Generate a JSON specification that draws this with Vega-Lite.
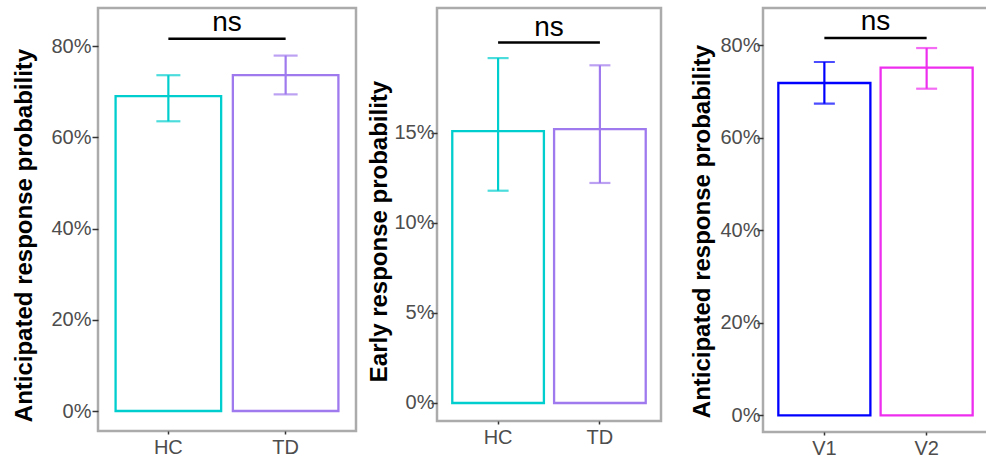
{
  "$schema": "https://vega.github.io/schema/vega-lite/v6.json",
  "padding": {"left": 10, "top": 6, "right": 0, "bottom": 0},
  "background": "white",
  "config": {
    "font": "Liberation Sans",
    "view": {"stroke": "#ABABAB", "strokeWidth": 2.5},
    "axis": {
      "grid": false,
      "domain": false,
      "tickColor": "#333333",
      "tickWidth": 1.5,
      "labelFont": "Liberation Sans",
      "labelColor": "#4D4D4D",
      "labelFontSize": 20,
      "titleFont": "Liberation Sans",
      "titleFontSize": 24,
      "titleFontWeight": "bold",
      "titleColor": "black"
    },
    "axisX": {"tickSize": 3, "labelPadding": 3, "labelAngle": 0},
    "axisY": {"tickSize": 6, "labelPadding": 1}
  },
  "bounds": "full",
  "spacing": 25,
  "hconcat": [
    {
      "bounds": "full",
      "spacing": 7,
      "hconcat": [
        {
          "width": 258,
          "height": 423,
          "data": {"values": [
            {"group": "HC", "mean": 0.690, "lo": 0.635, "hi": 0.736},
            {"group": "TD", "mean": 0.736, "lo": 0.694, "hi": 0.779}
          ]},
          "encoding": {
            "x": {"field": "group", "type": "nominal", "title": null,
                  "scale": {"paddingInner": 0.1, "paddingOuter": 0.15}},
            "color": {"field": "group", "type": "nominal", "legend": null,
                      "scale": {"domain": ["HC", "TD", "V1", "V2"], "range": ["#00CDCD", "#9F79EE", "#0000FF", "#EE2EEE"]}}
          },
          "layer": [
            {"mark": {"type": "bar", "fill": "white", "strokeWidth": 2.3, "filled": false},
             "encoding": {
               "y": {"field": "mean", "type": "quantitative", "title": "Anticipated response probability",
                     "scale": {"domain": [-0.0438, 0.8833], "nice": false, "zero": false},
                     "axis": {"values": [0, 0.2, 0.4, 0.6, 0.8], "format": ".0%", "titleX": -62, "titleY": 227}},
               "stroke": {"field": "group", "type": "nominal", "legend": null,
                          "scale": {"domain": ["HC", "TD", "V1", "V2"], "range": ["#00CDCD", "#9F79EE", "#0000FF", "#EE2EEE"]}}
             }},
            {"mark": {"type": "rule", "strokeWidth": 2.2},
             "encoding": {"y": {"field": "lo", "type": "quantitative"}, "y2": {"field": "hi"}}},
            {"mark": {"type": "tick", "size": 24, "thickness": 2.2},
             "encoding": {"y": {"field": "lo", "type": "quantitative"}}},
            {"mark": {"type": "tick", "size": 24, "thickness": 2.2},
             "encoding": {"y": {"field": "hi", "type": "quantitative"}}},
            {"data": {"values": [{"from": "HC", "to": "TD", "y": 0.816, "label": "ns", "ly": 0.833}]},
             "layer": [
               {"mark": {"type": "rule", "color": "black", "strokeWidth": 2.5},
                "encoding": {"x": {"field": "from", "type": "nominal"}, "x2": {"field": "to"},
                             "y": {"field": "y", "type": "quantitative"}, "color": {"value": "black"}}},
               {"mark": {"type": "text", "fontSize": 28, "color": "black", "align": "center", "baseline": "alphabetic", "dx": 58.6},
                "encoding": {"x": {"field": "from", "type": "nominal"}, "y": {"field": "ly", "type": "quantitative"},
                             "text": {"field": "label"}, "color": {"value": "black"}}}
             ]}
          ]
        },
        {
          "width": 224,
          "height": 413,
          "data": {"values": [
            {"group": "HC", "mean": 0.1509, "lo": 0.1178, "hi": 0.1914},
            {"group": "TD", "mean": 0.1520, "lo": 0.1221, "hi": 0.1874}
          ]},
          "encoding": {
            "x": {"field": "group", "type": "nominal", "title": null,
                  "scale": {"paddingInner": 0.1, "paddingOuter": 0.15}},
            "color": {"field": "group", "type": "nominal", "legend": null,
                      "scale": {"domain": ["HC", "TD", "V1", "V2"], "range": ["#00CDCD", "#9F79EE", "#0000FF", "#EE2EEE"]}}
          },
          "layer": [
            {"mark": {"type": "bar", "fill": "white", "strokeWidth": 2.3, "filled": false},
             "encoding": {
               "y": {"field": "mean", "type": "quantitative", "title": "Early response probability",
                     "scale": {"domain": [-0.0100, 0.2192], "nice": false, "zero": false},
                     "axis": {"values": [0, 0.05, 0.10, 0.15], "format": ".0%", "titleX": -46, "titleY": 223, "labelPadding": -3}},
               "stroke": {"field": "group", "type": "nominal", "legend": null,
                          "scale": {"domain": ["HC", "TD", "V1", "V2"], "range": ["#00CDCD", "#9F79EE", "#0000FF", "#EE2EEE"]}}
             }},
            {"mark": {"type": "rule", "strokeWidth": 2.2},
             "encoding": {"y": {"field": "lo", "type": "quantitative"}, "y2": {"field": "hi"}}},
            {"mark": {"type": "tick", "size": 21, "thickness": 2.2},
             "encoding": {"y": {"field": "lo", "type": "quantitative"}}},
            {"mark": {"type": "tick", "size": 21, "thickness": 2.2},
             "encoding": {"y": {"field": "hi", "type": "quantitative"}}},
            {"data": {"values": [{"from": "HC", "to": "TD", "y": 0.2, "label": "ns", "ly": 0.2035}]},
             "layer": [
               {"mark": {"type": "rule", "color": "black", "strokeWidth": 2.5},
                "encoding": {"x": {"field": "from", "type": "nominal"}, "x2": {"field": "to"},
                             "y": {"field": "y", "type": "quantitative"}, "color": {"value": "black"}}},
               {"mark": {"type": "text", "fontSize": 28, "color": "black", "align": "center", "baseline": "alphabetic", "dx": 50.9},
                "encoding": {"x": {"field": "from", "type": "nominal"}, "y": {"field": "ly", "type": "quantitative"},
                             "text": {"field": "label"}, "color": {"value": "black"}}}
             ]}
          ]
        }
      ]
    },
    {
      "width": 225,
      "height": 424,
      "data": {"values": [
        {"group": "V1", "mean": 0.7186, "lo": 0.674, "hi": 0.764},
        {"group": "V2", "mean": 0.7517, "lo": 0.7063, "hi": 0.7942}
      ]},
      "encoding": {
        "x": {"field": "group", "type": "nominal", "title": null,
              "scale": {"paddingInner": 0.1, "paddingOuter": 0.15}},
        "color": {"field": "group", "type": "nominal", "legend": null,
                  "scale": {"domain": ["HC", "TD", "V1", "V2"], "range": ["#00CDCD", "#9F79EE", "#0000FF", "#EE2EEE"]}}
      },
      "layer": [
        {"mark": {"type": "bar", "fill": "white", "strokeWidth": 2.3, "filled": false},
         "encoding": {
           "y": {"field": "mean", "type": "quantitative", "title": "Anticipated response probability",
                 "scale": {"domain": [-0.036, 0.8808], "nice": false, "zero": false},
                 "axis": {"values": [0, 0.2, 0.4, 0.6, 0.8], "format": ".0%", "titleX": -49, "titleY": 223, "labelPadding": -3}},
           "stroke": {"field": "group", "type": "nominal", "legend": null,
                      "scale": {"domain": ["HC", "TD", "V1", "V2"], "range": ["#00CDCD", "#9F79EE", "#0000FF", "#EE2EEE"]}}
         }},
        {"mark": {"type": "rule", "strokeWidth": 2.2},
         "encoding": {"y": {"field": "lo", "type": "quantitative"}, "y2": {"field": "hi"}}},
        {"mark": {"type": "tick", "size": 21, "thickness": 2.2},
         "encoding": {"y": {"field": "lo", "type": "quantitative"}}},
        {"mark": {"type": "tick", "size": 21, "thickness": 2.2},
         "encoding": {"y": {"field": "hi", "type": "quantitative"}}},
        {"data": {"values": [{"from": "V1", "to": "V2", "y": 0.8159, "label": "ns", "ly": 0.8325}]},
         "layer": [
           {"mark": {"type": "rule", "color": "black", "strokeWidth": 2.5},
            "encoding": {"x": {"field": "from", "type": "nominal"}, "x2": {"field": "to"},
                         "y": {"field": "y", "type": "quantitative"}, "color": {"value": "black"}}},
           {"mark": {"type": "text", "fontSize": 28, "color": "black", "align": "center", "baseline": "alphabetic", "dx": 51.1},
            "encoding": {"x": {"field": "from", "type": "nominal"}, "y": {"field": "ly", "type": "quantitative"},
                         "text": {"field": "label"}, "color": {"value": "black"}}}
         ]}
      ]
    }
  ]
}
